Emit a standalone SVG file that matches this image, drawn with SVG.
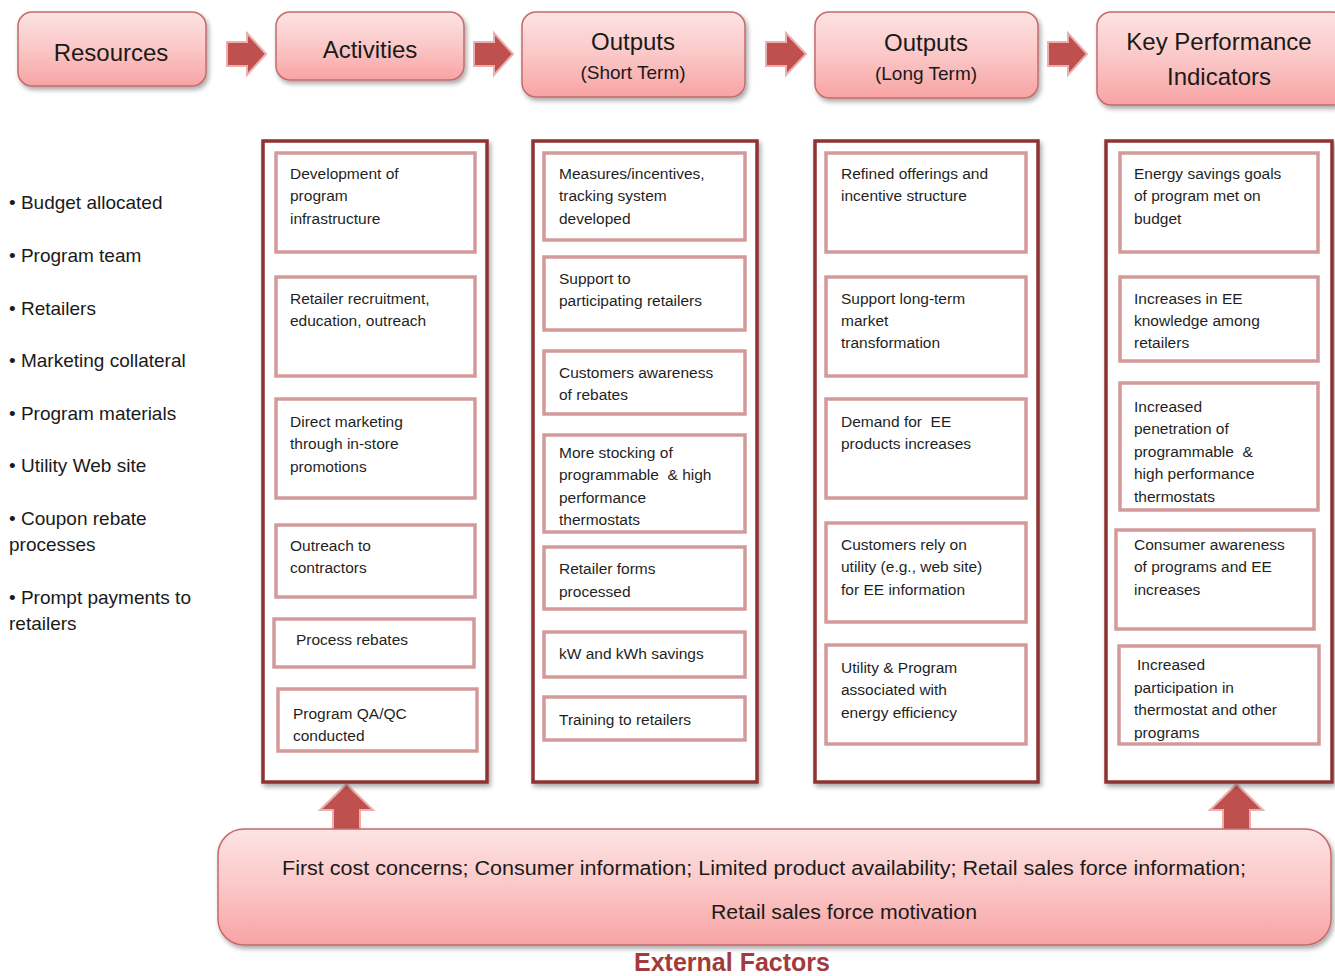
<svg xmlns="http://www.w3.org/2000/svg" width="1335" height="976" viewBox="0 0 1335 976">
<defs>
<linearGradient id="pink" x1="0" y1="0" x2="0" y2="1">
<stop offset="0" stop-color="#fde3e3"/>
<stop offset="0.5" stop-color="#fbc7c7"/>
<stop offset="1" stop-color="#f8a3a3"/>
</linearGradient>
<filter id="sh" x="-10%" y="-10%" width="125%" height="130%">
<feGaussianBlur in="SourceAlpha" stdDeviation="2.5"/>
<feOffset dx="2" dy="3" result="b"/>
<feComponentTransfer><feFuncA type="linear" slope="0.35"/></feComponentTransfer>
<feMerge><feMergeNode/><feMergeNode in="SourceGraphic"/></feMerge>
</filter>
</defs>
<style>
.hd{fill:url(#pink);stroke:#c46b6b;stroke-width:1.5;filter:url(#sh)}
.ht{font-family:"Liberation Sans",Arial,sans-serif;font-size:24px;fill:#1a1a1a;text-anchor:middle}
.hs{font-family:"Liberation Sans",Arial,sans-serif;font-size:19px;fill:#1a1a1a;text-anchor:middle}
.col{fill:#fff;stroke:#8e3232;stroke-width:3.5;filter:url(#sh)}
.box{fill:#fff;stroke:#d49a9a;stroke-width:3.5}
.t{font-family:"Liberation Sans",Arial,sans-serif;font-size:15.5px;fill:#1f1f1f}
.res{font-family:"Liberation Sans",Arial,sans-serif;font-size:19px;fill:#1a1a1a}
.arr{fill:#c0504d;stroke:#eab0b0;stroke-width:2}
.ext{fill:url(#pink);stroke:#c46b6b;stroke-width:1.5;filter:url(#sh)}
.et{font-family:"Liberation Sans",Arial,sans-serif;font-size:20px;fill:#1a1a1a}
</style>

<g id="connectors">
<path class="arr" d="M227,42 H247 V33 L266,54 L247,75 V66 H227 Z"/>
<path class="arr" d="M474,42 H494 V33 L513,54 L494,75 V66 H474 Z"/>
<path class="arr" d="M766,42 H786 V33 L806,54 L786,75 V66 H766 Z"/>
<path class="arr" d="M1048,42 H1068 V33 L1087,54 L1068,75 V66 H1048 Z"/>
<path class="arr" d="M333,830 V810 H320 L346.5,784 L373,810 H360 V830 Z"/>
<path class="arr" d="M1223,830 V810 H1210 L1236.5,784 L1263,810 H1250 V830 Z"/>
</g>

<g id="resources-head"><rect class="hd" x="18" y="12" width="188" height="74" rx="14"/><text class="ht" x="111" y="61">Resources</text></g>
<g id="activities-head"><rect class="hd" x="276" y="12" width="188" height="68" rx="14"/><text class="ht" x="370" y="58">Activities</text></g>
<g id="outputs-short-head"><rect class="hd" x="522" y="12" width="223" height="85" rx="14"/><text class="ht" x="633" y="50">Outputs</text><text class="hs" x="633" y="79">(Short Term)</text></g>
<g id="outputs-long-head"><rect class="hd" x="815" y="12" width="223" height="86" rx="14"/><text class="ht" x="926" y="51">Outputs</text><text class="hs" x="926" y="80">(Long Term)</text></g>
<g id="kpi-head"><rect class="hd" x="1097" y="12" width="250" height="93" rx="14"/><text class="ht" x="1219" y="50">Key Performance</text><text class="ht" x="1219" y="85">Indicators</text></g>

<g id="resources-list">
<text class="res" x="9" y="209">• Budget allocated</text>
<text class="res" x="9" y="262">• Program team</text>
<text class="res" x="9" y="315">• Retailers</text>
<text class="res" x="9" y="367">• Marketing collateral</text>
<text class="res" x="9" y="420">• Program materials</text>
<text class="res" x="9" y="472">• Utility Web site</text>
<text class="res" x="9" y="525">• Coupon rebate</text>
<text class="res" x="9" y="551">processes</text>
<text class="res" x="9" y="604">• Prompt payments to</text>
<text class="res" x="9" y="630">retailers</text>
</g>

<g id="activities-col">
<rect class="col" x="263" y="141" width="224" height="641"/>
<g id="a1"><rect class="box" x="276" y="153" width="199" height="99"/><text class="t" x="290" y="179">Development of</text><text class="t" x="290" y="201">program</text><text class="t" x="290" y="224">infrastructure</text></g>
<g id="a2"><rect class="box" x="276" y="277" width="199" height="99"/><text class="t" x="290" y="304">Retailer recruitment,</text><text class="t" x="290" y="326">education, outreach</text></g>
<g id="a3"><rect class="box" x="276" y="399" width="199" height="99"/><text class="t" x="290" y="427">Direct marketing</text><text class="t" x="290" y="449">through in-store</text><text class="t" x="290" y="472">promotions</text></g>
<g id="a4"><rect class="box" x="276" y="525" width="199" height="72"/><text class="t" x="290" y="551">Outreach to</text><text class="t" x="290" y="573">contractors</text></g>
<g id="a5"><rect class="box" x="274" y="619" width="200" height="48"/><text class="t" x="296" y="645">Process rebates</text></g>
<g id="a6"><rect class="box" x="278" y="689" width="199" height="62"/><text class="t" x="293" y="719">Program QA/QC</text><text class="t" x="293" y="741">conducted</text></g>
</g>

<g id="outputs-short-col">
<rect class="col" x="533" y="141" width="224" height="641"/>
<g id="s1"><rect class="box" x="544" y="153" width="201" height="87"/><text class="t" x="559" y="179">Measures/incentives,</text><text class="t" x="559" y="201">tracking system</text><text class="t" x="559" y="224">developed</text></g>
<g id="s2"><rect class="box" x="544" y="257" width="201" height="73"/><text class="t" x="559" y="284">Support to</text><text class="t" x="559" y="306">participating retailers</text></g>
<g id="s3"><rect class="box" x="544" y="351" width="201" height="63"/><text class="t" x="559" y="378">Customers awareness</text><text class="t" x="559" y="400">of rebates</text></g>
<g id="s4"><rect class="box" x="544" y="435" width="201" height="97"/><text class="t" x="559" y="458">More stocking of</text><text class="t" x="559" y="480" xml:space="preserve">programmable  &amp; high</text><text class="t" x="559" y="503">performance</text><text class="t" x="559" y="525">thermostats</text></g>
<g id="s5"><rect class="box" x="544" y="547" width="201" height="62"/><text class="t" x="559" y="574">Retailer forms</text><text class="t" x="559" y="597">processed</text></g>
<g id="s6"><rect class="box" x="544" y="632" width="201" height="45"/><text class="t" x="559" y="659">kW and kWh savings</text></g>
<g id="s7"><rect class="box" x="544" y="697" width="201" height="43"/><text class="t" x="559" y="725">Training to retailers</text></g>
</g>

<g id="outputs-long-col">
<rect class="col" x="815" y="141" width="223" height="641"/>
<g id="l1"><rect class="box" x="826" y="153" width="200" height="99"/><text class="t" x="841" y="179">Refined offerings and</text><text class="t" x="841" y="201">incentive structure</text></g>
<g id="l2"><rect class="box" x="826" y="277" width="200" height="99"/><text class="t" x="841" y="304">Support long-term</text><text class="t" x="841" y="326">market</text><text class="t" x="841" y="348">transformation</text></g>
<g id="l3"><rect class="box" x="826" y="399" width="200" height="99"/><text class="t" x="841" y="427" xml:space="preserve">Demand for  EE</text><text class="t" x="841" y="449">products increases</text></g>
<g id="l4"><rect class="box" x="826" y="523" width="200" height="99"/><text class="t" x="841" y="550">Customers rely on</text><text class="t" x="841" y="572">utility (e.g., web site)</text><text class="t" x="841" y="595">for EE information</text></g>
<g id="l5"><rect class="box" x="826" y="645" width="200" height="99"/><text class="t" x="841" y="673">Utility &amp; Program</text><text class="t" x="841" y="695">associated with</text><text class="t" x="841" y="718">energy efficiency</text></g>
</g>

<g id="kpi-col">
<rect class="col" x="1106" y="141" width="226" height="641"/>
<g id="k1"><rect class="box" x="1120" y="153" width="198" height="99"/><text class="t" x="1134" y="179">Energy savings goals</text><text class="t" x="1134" y="201">of program met on</text><text class="t" x="1134" y="224">budget</text></g>
<g id="k2"><rect class="box" x="1120" y="277" width="198" height="84"/><text class="t" x="1134" y="304">Increases in EE</text><text class="t" x="1134" y="326">knowledge among</text><text class="t" x="1134" y="348">retailers</text></g>
<g id="k3"><rect class="box" x="1120" y="383" width="198" height="127"/><text class="t" x="1134" y="412">Increased</text><text class="t" x="1134" y="434">penetration of</text><text class="t" x="1134" y="457" xml:space="preserve">programmable  &amp;</text><text class="t" x="1134" y="479">high performance</text><text class="t" x="1134" y="502">thermostats</text></g>
<g id="k4"><rect class="box" x="1116" y="530" width="198" height="99"/><text class="t" x="1134" y="550">Consumer awareness</text><text class="t" x="1134" y="572">of programs and EE</text><text class="t" x="1134" y="595">increases</text></g>
<g id="k5"><rect class="box" x="1119" y="646" width="200" height="98"/><text class="t" x="1137" y="670">Increased</text><text class="t" x="1134" y="693">participation in</text><text class="t" x="1134" y="715">thermostat and other</text><text class="t" x="1134" y="738">programs</text></g>
</g>

<g id="external-factors">
<rect class="ext" x="218" y="829" width="1113" height="116" rx="26"/>
<text class="et" x="282" y="875" textLength="964" lengthAdjust="spacingAndGlyphs">First cost concerns; Consumer information; Limited product availability; Retail sales force information;</text>
<text class="et" x="711" y="919" textLength="266" lengthAdjust="spacingAndGlyphs">Retail sales force motivation</text>
<text x="732" y="971" text-anchor="middle" font-family="'Liberation Sans',Arial,sans-serif" font-size="25" font-weight="bold" fill="#a23b3b">External Factors</text>
</g>
</svg>
